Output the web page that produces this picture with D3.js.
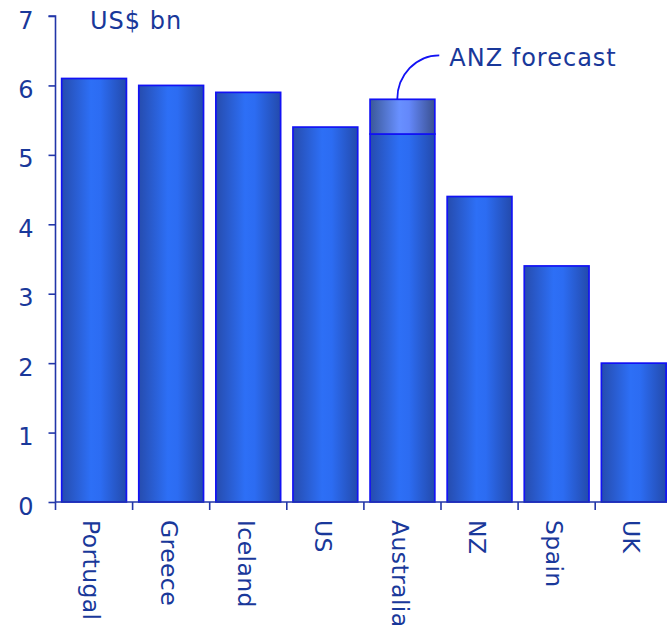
<!DOCTYPE html>
<html>
<head>
<meta charset="utf-8">
<script src="https://cdn.jsdelivr.net/npm/d3@7"></script>
<style>
  body { margin: 0; background: #fff; }
  svg { display: block; }
  text { font-family: "DejaVu Sans", Verdana, sans-serif; fill: #19389a; }
</style>
</head>
<body>
<svg id="chart" width="667" height="631"></svg>
<script>
// Net foreign investment flows, US$ bn
const categories = ["Portugal", "Greece", "Iceland", "US", "Australia", "NZ", "Spain", "UK"];
const values = [6.1, 6.0, 5.9, 5.4, 5.3, 4.4, 3.4, 2.0];
// ANZ forecast total (only Australia carries a forecast)
const forecastCategory = "Australia";
const forecastValue = 5.8;
const yTicks = [0, 1, 2, 3, 4, 5, 6, 7];
const unitLabel = "US$ bn";
const forecastLabel = "ANZ forecast";

const svg = d3.select("#chart");
const margin = { left: 55.5, top: 16, bottom: 502 };
const bandW = 77.1;
const fontSize = 24;
const spacing = 1;

const x = d3.scaleBand()
  .domain(categories)
  .range([margin.left, margin.left + bandW * categories.length])
  .paddingInner(0.16)
  .paddingOuter(0.08);

const y = d3.scaleLinear().domain([0, 7]).range([margin.bottom, margin.top]);

const axisColor = "#2236a8";
const barStroke = "#1212f4";

// Gradients for the bars
const defs = svg.append("defs");
const g1 = defs.append("linearGradient").attr("id", "barGrad").attr("x1", "0").attr("x2", "1").attr("y1", "0").attr("y2", "0");
g1.append("stop").attr("offset", "0%").attr("stop-color", "#264cae");
g1.append("stop").attr("offset", "45%").attr("stop-color", "#2d6ff6");
g1.append("stop").attr("offset", "60%").attr("stop-color", "#2c6cf2");
g1.append("stop").attr("offset", "100%").attr("stop-color", "#234aac");

const g2 = defs.append("linearGradient").attr("id", "fcGrad").attr("x1", "0").attr("x2", "1").attr("y1", "0").attr("y2", "0");
g2.append("stop").attr("offset", "0%").attr("stop-color", "#3b5898");
g2.append("stop").attr("offset", "45%").attr("stop-color", "#6890ff");
g2.append("stop").attr("offset", "60%").attr("stop-color", "#6488fa");
g2.append("stop").attr("offset", "100%").attr("stop-color", "#3a5090");

// Bars
svg.append("g").selectAll("rect.bar")
  .data(categories.map((c, i) => ({ c, v: values[i] })))
  .join("rect")
  .attr("class", "bar")
  .attr("x", d => x(d.c))
  .attr("width", x.bandwidth())
  .attr("y", d => y(d.v))
  .attr("height", d => y(0) - y(d.v))
  .attr("fill", "url(#barGrad)")
  .attr("stroke", barStroke)
  .attr("stroke-width", 1.7);

// Forecast increment on top of the Australia bar
const aIdx = categories.indexOf(forecastCategory);
svg.append("rect")
  .attr("x", x(forecastCategory))
  .attr("width", x.bandwidth())
  .attr("y", y(forecastValue))
  .attr("height", y(values[aIdx]) - y(forecastValue))
  .attr("fill", "url(#fcGrad)")
  .attr("stroke", barStroke)
  .attr("stroke-width", 1.7);

// Callout line and label
const cx = x(forecastCategory) + x.bandwidth() * 0.42;
const cy = y(forecastValue);
svg.append("path")
  .attr("d", `M${cx},${cy} A42,44 0 0 1 ${cx + 42},${cy - 44}`)
  .attr("fill", "none")
  .attr("stroke", barStroke)
  .attr("stroke-width", 1.8);
svg.append("text")
  .attr("x", cx + 52)
  .attr("y", cy - 33)
  .attr("font-size", fontSize)
  .attr("letter-spacing", spacing)
  .text(forecastLabel);

// Y axis
const yAxis = svg.append("g")
  .attr("transform", `translate(${margin.left},0)`)
  .call(d3.axisLeft(y).tickValues(yTicks).tickSize(7).tickPadding(15).tickFormat(d3.format("d")));
yAxis.select(".domain").attr("stroke", axisColor).attr("stroke-width", 1.6).attr("d", `M-7,${y(7)}H0V${y(0)}`);
yAxis.selectAll(".tick line").attr("stroke", axisColor).attr("stroke-width", 1.6);
yAxis.selectAll(".tick text")
  .attr("font-size", fontSize)
  .attr("font-family", "DejaVu Sans, Verdana, sans-serif")
  .attr("fill", "#19389a")
  .attr("dy", "0.5em");

// X axis
const xAxis = svg.append("g")
  .attr("transform", `translate(0,${y(0)})`);
xAxis.append("line")
  .attr("x1", margin.left).attr("x2", 667)
  .attr("stroke", axisColor).attr("stroke-width", 1.6);
xAxis.selectAll("line.tk")
  .data(categories)
  .join("line")
  .attr("class", "tk")
  .attr("x1", d => x(d) - x.step() * x.paddingInner() / 2)
  .attr("x2", d => x(d) - x.step() * x.paddingInner() / 2)
  .attr("y1", 0).attr("y2", 8)
  .attr("stroke", axisColor).attr("stroke-width", 1.6);
xAxis.selectAll("text.cat")
  .data(categories)
  .join("text")
  .attr("class", "cat")
  .attr("font-size", 23.5)
  .attr("letter-spacing", 0.4)
  .attr("transform", d => `translate(${x(d) + x.bandwidth() / 2},18) rotate(90)`)
  .attr("dy", "0.45em")
  .text(d => d);

// Unit label
svg.append("text")
  .attr("x", 90)
  .attr("y", 29)
  .attr("font-size", fontSize)
  .attr("letter-spacing", spacing)
  .text(unitLabel);
</script>
</body>
</html>
